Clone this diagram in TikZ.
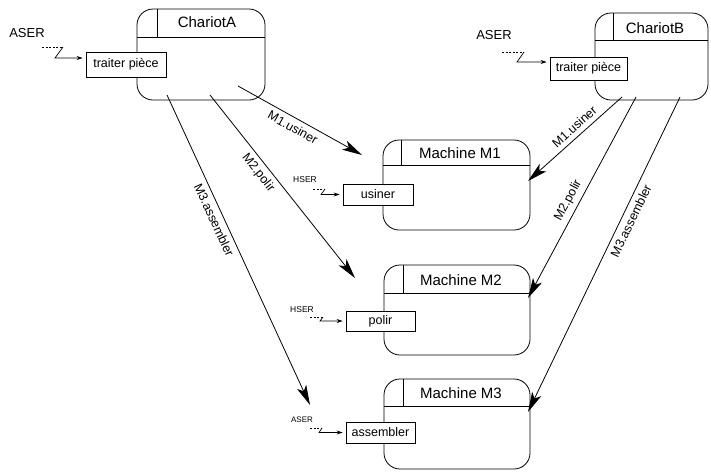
\documentclass[tikz,border=0pt]{standalone}
\usepackage{fontspec}
\setmainfont{Liberation Sans}
\usetikzlibrary{arrows.meta}
\begin{document}
\begin{tikzpicture}[x=1pt,y=-1pt,
  obj/.style={draw, line width=0.8pt, rounded corners=16pt, inner sep=0pt},
  sub/.style={draw, fill=white, line width=0.8pt, inner sep=0pt, font=\fontsize{12.5}{14}\selectfont},
  ttl/.style={inner sep=0pt, font=\fontsize{15}{17}\selectfont},
  hline/.style={line width=0.8pt},
  msg/.style={-{Stealth[length=20pt,width=10pt,inset=5pt]}, line width=0.8pt},
  lbl/.style={font=\fontsize{12.5}{14}\selectfont, sloped, inner sep=4.5pt},
  sigtxt/.style={inner sep=0pt},
  sig/.style={-{Stealth[length=6pt,width=4pt]}, line width=0.7pt, shorten >=3pt},
  sigdash/.style={dash pattern=on 2pt off 1.5pt, line width=0.7pt}
]
\useasboundingbox[fill=white] (0,0) rectangle (711,472);

% ---------- objects ----------
\node[obj, minimum width=128pt, minimum height=91pt] (chA) at (201,54.5) {};
\draw[hline] (137,37) -- (265,37);
\draw[hline] (157,9) -- (157,37);
\node[ttl] (tA) at (207,22) {ChariotA};

\node[obj, minimum width=113pt, minimum height=87pt] (chB) at (651.5,56.5) {};
\draw[hline] (595,40) -- (708,40);
\draw[hline] (613,13) -- (613,40);
\node[ttl] (tB) at (655,28) {ChariotB};

\node[obj, minimum width=147pt, minimum height=90pt] (m1) at (456.5,185) {};
\draw[hline] (383,165) -- (530,165);
\draw[hline] (401,140) -- (401,165);
\node[ttl] (t1) at (460,153) {Machine M1};

\node[obj, minimum width=146pt, minimum height=90pt] (m2) at (457,310) {};
\draw[hline] (384,293) -- (530,293);
\draw[hline] (403,265) -- (403,293);
\node[ttl] (t2) at (461,280) {Machine M2};

\node[obj, minimum width=146pt, minimum height=90pt] (m3) at (457,424) {};
\draw[hline] (384,406) -- (530,406);
\draw[hline] (403,379) -- (403,406);
\node[ttl] (t3) at (461,393) {Machine M3};

% ---------- operation boxes ----------
\node[sub, minimum width=80pt, minimum height=25pt] (tpA) at (126,64.5) {traiter pièce};
\node[sub, minimum width=77pt, minimum height=23pt] (tpB) at (588.5,68.5) {traiter pièce};
\node[sub, minimum width=70pt, minimum height=21pt] (us) at (378,194.5) {usiner};
\node[sub, minimum width=69pt, minimum height=20pt] (po) at (380.5,321) {polir};
\node[sub, minimum width=69pt, minimum height=21pt] (as) at (380.5,432.5) {assembler};

% ---------- signals ----------
\node[sigtxt, font=\fontsize{13}{15}\selectfont] (sA) at (27,33) {ASER};
\coordinate (sA1) at (42,47); \coordinate (sA2) at (63,47); \coordinate (sA3) at (55,58);
\draw[sigdash] (sA1) -- (sA2);
\draw[sig] (sA2) -- (sA3) -- (sA3 -| tpA.west);

\node[sigtxt, font=\fontsize{13}{15}\selectfont] (sB) at (494,35) {ASER};
\coordinate (sB1) at (502,52); \coordinate (sB2) at (524,52); \coordinate (sB3) at (517,62);
\draw[sigdash] (sB1) -- (sB2);
\draw[sig] (sB2) -- (sB3) -- (sB3 -| tpB.west);

\node[sigtxt, font=\fontsize{8.5}{10}\selectfont] (s1) at (305,180) {HSER};
\coordinate (s11) at (313,189); \coordinate (s12) at (325,189); \coordinate (s13) at (321,194.5);
\draw[sigdash] (s11) -- (s12);
\draw[sig] (s12) -- (s13) -- (us.west);

\node[sigtxt, font=\fontsize{8.5}{10}\selectfont] (s2) at (302,310) {HSER};
\coordinate (s21) at (310,317); \coordinate (s22) at (323,317); \coordinate (s23) at (320,321);
\draw[sigdash] (s21) -- (s22);
\draw[sig] (s22) -- (s23) -- (po.west);

\node[sigtxt, font=\fontsize{8}{10}\selectfont] (s3) at (302,420) {ASER};
\coordinate (s31) at (310,428); \coordinate (s32) at (322,428); \coordinate (s33) at (319,432.5);
\draw[sigdash] (s31) -- (s32);
\draw[sig] (s32) -- (s33) -- (as.west);

% ---------- messages ----------
\coordinate (a1s) at (238,86);  \coordinate (a1e) at (362,155);
\coordinate (a2s) at (210,95);  \coordinate (a2e) at (355,278);
\coordinate (a3s) at (167,95);  \coordinate (a3e) at (310,405);
\coordinate (b1s) at (622,97);  \coordinate (b1e) at (528,181);
\coordinate (b2s) at (636,97);  \coordinate (b2e) at (528,298);
\coordinate (b3s) at (680,97);  \coordinate (b3e) at (528,412);

\draw[msg] (a1s) -- node[lbl, below, pos=.48] {M1.usiner} (a1e);
\draw[msg] (a2s) -- node[lbl, below, pos=.39] {M2.polir} (a2e);
\draw[msg] (a3s) -- node[lbl, below, pos=.39] {M3.assembler} (a3e);
\draw[msg] (b1s) -- node[lbl, above, pos=.44] {M1.usiner} (b1e);
\draw[msg] (b2s) -- node[lbl, above, pos=.54] {M2.polir} (b2e);
\draw[msg] (b3s) -- node[lbl, below, pos=.38] {M3.assembler} (b3e);
\end{tikzpicture}
\end{document}
